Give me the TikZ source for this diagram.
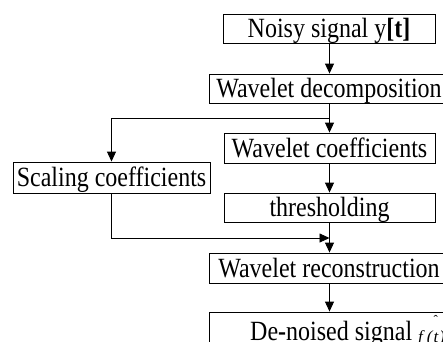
\documentclass[tikz,border=0pt]{standalone}
\usepackage{fontspec}
\setmainfont{Liberation Serif}
\usetikzlibrary{arrows.meta}
\newcommand{\tallt}[1]{\scalebox{1}[1.16]{#1}}
\tikzset{
  box/.style={draw, line width=0.9pt, inner sep=0pt, text height=18.5pt, text depth=0pt,
    font=\fontsize{24pt}{24pt}\selectfont, minimum height=29pt},
  arr/.style={line width=0.9pt, -{Triangle[length=10pt,width=9pt]}},
  ln/.style={line width=0.9pt}
}
\begin{document}
\begin{tikzpicture}[x=1pt,y=-1pt]
\useasboundingbox (0,0) rectangle (443,341);
\clip (0,0) rectangle (443,341);
\node[box, minimum width=212pt] (b1) at (329,28.5) {\tallt{Noisy signal y\textbf{[t]}}};
\node[box, minimum width=240pt] (b2) at (329,88.5) {\tallt{Wavelet decomposition}};
\node[box, minimum width=211pt, minimum height=30pt] (b3) at (329.5,148) {\tallt{Wavelet coefficients}};
\node[box, minimum width=197pt, minimum height=31pt] (b4) at (111.5,177.5) {\tallt{Scaling coefficients}};
\node[box, minimum width=211pt] (b5) at (329.5,207.5) {\tallt{thresholding}};
\node[box, minimum width=240pt, minimum height=30pt] (b6) at (329,268) {\tallt{Wavelet reconstruction}};
\node[draw, line width=0.9pt, inner sep=0pt, minimum width=240pt, minimum height=40pt] (b7) at (329,332) {};
\node[anchor=base west, inner sep=0pt, font=\fontsize{24pt}{24pt}\selectfont] (b7txt) at (250,340)
  {\tallt{De\textbf{-}noised signal}\hspace{6pt}\raisebox{-2pt}{\fontsize{17pt}{17pt}\selectfont\itshape f\hspace{4pt}(\hspace{1pt}\rlap{\raisebox{18pt}{\normalfont\fontsize{13pt}{13pt}\selectfont ˆ}}t\hspace{1pt})}};
\coordinate (col) at (329.5,0);
\coordinate (split) at (329.5,118);
\coordinate (merge) at (329.5,238);
\draw[arr] (b1.south -| col) -- (b2.north -| col);
\draw[ln] (b2.south -| col) -- (split);
\draw[arr] (split) -- (b3.north -| col);
\draw[arr] (split) -| (b4.north);
\draw[arr] (b3.south -| col) -- (b5.north -| col);
\draw[arr] (b4.south) |- (merge);
\draw[arr] (b5.south -| col) -- (b6.north -| col);
\draw[arr] (b6.south -| col) -- (b7.north -| col);
\end{tikzpicture}
\end{document}
